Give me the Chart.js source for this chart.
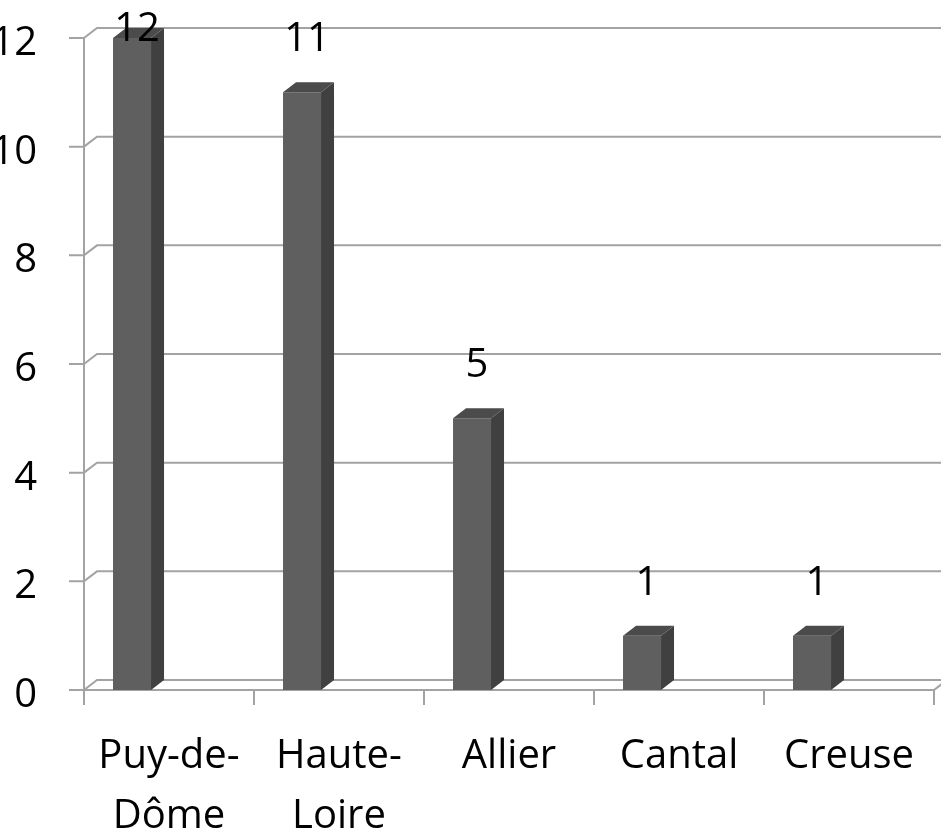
<!DOCTYPE html>
<html>
<head>
<meta charset="utf-8">
<script src="https://cdn.jsdelivr.net/npm/chart.js@4/dist/chart.umd.min.js"></script>
<style>
  html, body { margin: 0; padding: 0; background: #fff; overflow: hidden; }
  #wrap { width: 941px; height: 830px; }
</style>
</head>
<body>
<div id="wrap"><canvas id="chart" width="941" height="830"></canvas></div>
<script>
const departements = [['Puy-de-', 'Dôme'], ['Haute-', 'Loire'], 'Allier', 'Cantal', 'Creuse'];
const counts = [12, 11, 5, 1, 1];
const yTicks = [0, 2, 4, 6, 8, 10, 12];

// 3d look: offset of the back wall / bar depth
const DX = 13, DY = -10;
const FONT = '40px "Open Sans"';
const GRID = '#a3a3a3';

const depth3d = {
  id: 'depth3d',
  beforeDatasetsDraw(chart) {
    const { ctx, chartArea: a, scales: { x, y } } = chart;
    ctx.save();
    ctx.strokeStyle = GRID;
    ctx.lineWidth = 2;
    // gridlines on the back wall + tick marks on the front axis
    yTicks.forEach(v => {
      const py = y.getPixelForValue(v);
      ctx.beginPath();
      ctx.moveTo(a.left - 15, py);
      ctx.lineTo(a.left, py);
      ctx.lineTo(a.left + DX, py + DY);
      ctx.lineTo(a.right + DX, py + DY);
      ctx.stroke();
    });
    // front axes
    ctx.beginPath();
    ctx.moveTo(a.left, a.top);
    ctx.lineTo(a.left, a.bottom);
    ctx.lineTo(a.right, a.bottom);
    ctx.lineTo(a.right + DX, a.bottom + DY);
    ctx.stroke();
    // category tick marks
    const half = (x.getPixelForValue(1) - x.getPixelForValue(0)) / 2;
    for (let i = 0; i <= departements.length; i++) {
      const px = x.getPixelForValue(i) - half;
      ctx.beginPath();
      ctx.moveTo(px, a.bottom);
      ctx.lineTo(px, a.bottom + 15);
      ctx.stroke();
    }
    // tick labels
    ctx.fillStyle = '#000';
    ctx.font = FONT;
    ctx.textAlign = 'right';
    ctx.textBaseline = 'alphabetic';
    yTicks.forEach(v => {
      ctx.fillText(String(v), 37, y.getPixelForValue(v) + 17);
    });
    ctx.textAlign = 'center';
    departements.forEach((lab, i) => {
      const lines = Array.isArray(lab) ? lab : [lab];
      lines.forEach((t, j) => ctx.fillText(t, x.getPixelForValue(i), 768 + j * 60));
    });
    ctx.restore();
  },
  afterDatasetsDraw(chart) {
    const { ctx } = chart;
    const meta = chart.getDatasetMeta(0);
    ctx.save();
    meta.data.forEach((b, i) => {
      const l = b.x - b.width / 2, r = b.x + b.width / 2;
      // side
      ctx.fillStyle = '#404040';
      ctx.beginPath();
      ctx.moveTo(r, b.y);
      ctx.lineTo(r + DX, b.y + DY);
      ctx.lineTo(r + DX, b.base + DY);
      ctx.lineTo(r, b.base);
      ctx.closePath();
      ctx.fill();
      // top
      ctx.fillStyle = '#4b4b4b';
      ctx.beginPath();
      ctx.moveTo(l, b.y);
      ctx.lineTo(l + DX, b.y + DY);
      ctx.lineTo(r + DX, b.y + DY);
      ctx.lineTo(r, b.y);
      ctx.closePath();
      ctx.fill();
      // value label
      ctx.fillStyle = '#000';
      ctx.font = FONT;
      ctx.textAlign = 'center';
      ctx.fillText(String(counts[i]), b.x + 5, Math.max(b.y - 55, 27) + 14);
    });
    ctx.restore();
  }
};

new Chart(document.getElementById('chart'), {
  type: 'bar',
  data: {
    labels: departements,
    datasets: [
      { data: counts, backgroundColor: '#5f5f5f', borderWidth: 0 },
      // empty slot so the bar sits left of the category centre, like the original
      { data: counts.map(() => null), backgroundColor: 'transparent' }
    ]
  },
  options: {
    responsive: false,
    animation: false,
    events: [],
    categoryPercentage: 0.87,
    barPercentage: 0.514,
    layout: { padding: { left: 84, right: 7, top: 38, bottom: 140 } },
    plugins: { legend: { display: false }, tooltip: { enabled: false } },
    scales: {
      x: { display: false },
      y: { display: false, min: 0, max: 12 }
    }
  },
  plugins: [depth3d]
});
</script>
</body>
</html>
